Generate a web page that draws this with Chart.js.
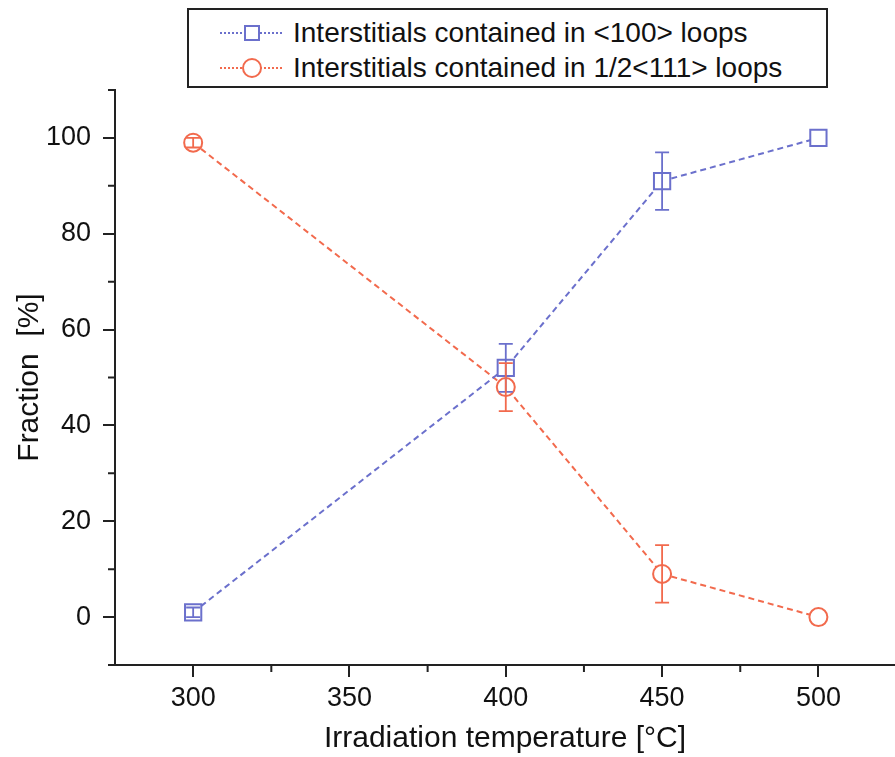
<!DOCTYPE html>
<html>
<head>
<meta charset="utf-8">
<script src="https://cdn.jsdelivr.net/npm/chart.js@4.4.1/dist/chart.umd.min.js"></script>
<style>
  html, body { margin: 0; padding: 0; background: #fff; }
  #wrap { position: relative; width: 895px; height: 757px; }
  #legend {
    position: absolute; left: 187px; top: 8px; width: 637px; height: 76px;
    border: 2px solid #222; background: #fff;
    font-family: "Liberation Sans", Arial, sans-serif; font-size: 28px; color: #111;
  }
  .row { position: absolute; left: 0; width: 100%; height: 34px; }
  .line { position: absolute; left: 31px; top: 16px; width: 62px; border-top: 2px dotted; }
  .mark { position: absolute; box-sizing: border-box; border: 2px solid; background: #fff; }
  .sq { left: 55px; top: 9px; width: 16px; height: 16px; }
  .ci { left: 53px; top: 7px; width: 20px; height: 20px; border-radius: 50%; }
  .txt { position: absolute; left: 104px; top: 0; line-height: 34px; white-space: nowrap; }
</style>
</head>
<body>
<div id="wrap">
  <canvas id="chart" width="895" height="757"></canvas>
  <div id="legend">
    <div class="row" style="top:6px">
      <div class="line" style="border-color:#6b70cc"></div>
      <div class="mark sq" style="border-color:#6b70cc"></div>
      <div class="txt">Interstitials contained in &lt;100&gt; loops</div>
    </div>
    <div class="row" style="top:41px">
      <div class="line" style="border-color:#f26a4d"></div>
      <div class="mark ci" style="border-color:#f26a4d"></div>
      <div class="txt">Interstitials contained in 1/2&lt;111&gt; loops</div>
    </div>
  </div>
</div>
<script>
// values
const temps = [300, 400, 450, 500];
const loops100 = [1, 52, 91, 100];
const loops100Err = [1, 5, 6, 0];
const loops111 = [99, 48, 9, 0];
const loops111Err = [1, 5, 6, 0];

const xMajorTicks = [300, 350, 400, 450, 500];
const xMinorTicks = [325, 375, 425, 475];
const yMajorTicks = [0, 20, 40, 60, 80, 100];
const yMinorTicks = [-10, 10, 30, 50, 70, 90, 110];

const blue = "#6b70cc";
const red = "#f26a4d";
const axisColor = "#222";

Chart.defaults.font.family = '"Liberation Sans", Arial, sans-serif';
Chart.defaults.color = "#111";

function toPoints(xs, ys) {
  return xs.map((x, i) => ({ x: x, y: ys[i] }));
}

// error bars drawn through the scales
const errorBars = {
  id: "errorBars",
  afterDatasetsDraw(chart) {
    const ctx = chart.ctx;
    const yScale = chart.scales.y;
    chart.data.datasets.forEach((ds, di) => {
      const meta = chart.getDatasetMeta(di);
      ctx.save();
      ctx.strokeStyle = ds.borderColor;
      ctx.lineWidth = 1.8;
      meta.data.forEach((pt, i) => {
        const err = ds.errors[i];
        if (!err) return;
        const v = ds.data[i].y;
        const top = yScale.getPixelForValue(v + err);
        const bot = yScale.getPixelForValue(v - err);
        ctx.beginPath();
        ctx.moveTo(pt.x, top);
        ctx.lineTo(pt.x, bot);
        ctx.moveTo(pt.x - 7, top);
        ctx.lineTo(pt.x + 7, top);
        ctx.moveTo(pt.x - 7, bot);
        ctx.lineTo(pt.x + 7, bot);
        ctx.stroke();
      });
      ctx.restore();
    });
  },
};

// short minor tick marks outside the axes
const minorTicks = {
  id: "minorTicks",
  afterDraw(chart) {
    const ctx = chart.ctx;
    const area = chart.chartArea;
    const xs = chart.scales.x;
    const ys = chart.scales.y;
    ctx.save();
    ctx.strokeStyle = axisColor;
    ctx.lineWidth = 2;
    ctx.beginPath();
    yMinorTicks.forEach((v) => {
      const py = ys.getPixelForValue(v);
      ctx.moveTo(area.left, py);
      ctx.lineTo(area.left - 7, py);
    });
    xMinorTicks.forEach((v) => {
      const px = xs.getPixelForValue(v);
      ctx.moveTo(px, area.bottom);
      ctx.lineTo(px, area.bottom + 7);
    });
    ctx.stroke();
    ctx.restore();
  },
};

new Chart(document.getElementById("chart"), {
  type: "line",
  data: {
    datasets: [
      {
        label: "Interstitials contained in <100> loops",
        data: toPoints(temps, loops100),
        errors: loops100Err,
        borderColor: blue,
        backgroundColor: "rgba(0,0,0,0)",
        borderWidth: 2,
        borderDash: [6, 4],
        pointStyle: "rect",
        pointRadius: 11.5,
        pointBorderWidth: 2,
        pointBackgroundColor: "#fff",
        tension: 0,
        clip: false,
      },
      {
        label: "Interstitials contained in 1/2<111> loops",
        data: toPoints(temps, loops111),
        errors: loops111Err,
        borderColor: red,
        backgroundColor: "rgba(0,0,0,0)",
        borderWidth: 2,
        borderDash: [6, 4],
        pointStyle: "circle",
        pointRadius: 9,
        pointBorderWidth: 2,
        pointBackgroundColor: "#fff",
        tension: 0,
        clip: false,
      },
    ],
  },
  options: {
    responsive: false,
    animation: false,
    devicePixelRatio: 1,
    layout: { autoPadding: false, padding: { top: 90, right: 0, left: 0, bottom: 0 } },
    plugins: { legend: { display: false }, tooltip: { enabled: false } },
    scales: {
      x: {
        type: "linear",
        min: 275,
        max: 524.5,
        afterBuildTicks: (scale) => {
          scale.ticks = xMajorTicks.map((v) => ({ value: v }));
        },
        afterFit: (scale) => {
          scale.height = 92;
        },
        border: { display: true, color: axisColor, width: 2 },
        grid: { drawOnChartArea: false, tickLength: 12, color: axisColor, lineWidth: 2 },
        ticks: { font: { size: 27 }, color: "#111", padding: 5, maxRotation: 0 },
        title: {
          display: true,
          text: "Irradiation temperature [°C]",
          font: { size: 30 },
          color: "#111",
          padding: { top: 0, bottom: 0 },
        },
      },
      y: {
        min: -10,
        max: 110,
        afterBuildTicks: (scale) => {
          scale.ticks = yMajorTicks.map((v) => ({ value: v }));
        },
        afterFit: (scale) => {
          scale.width = 115;
        },
        border: { display: true, color: axisColor, width: 2 },
        grid: { drawOnChartArea: false, tickLength: 12, color: axisColor, lineWidth: 2 },
        ticks: { font: { size: 27 }, color: "#111", padding: 12 },
        title: {
          display: true,
          text: "Fraction  [%]",
          font: { size: 30 },
          color: "#111",
          padding: { top: 12, bottom: 0 },
        },
      },
    },
  },
  plugins: [errorBars, minorTicks],
});
</script>
</body>
</html>
